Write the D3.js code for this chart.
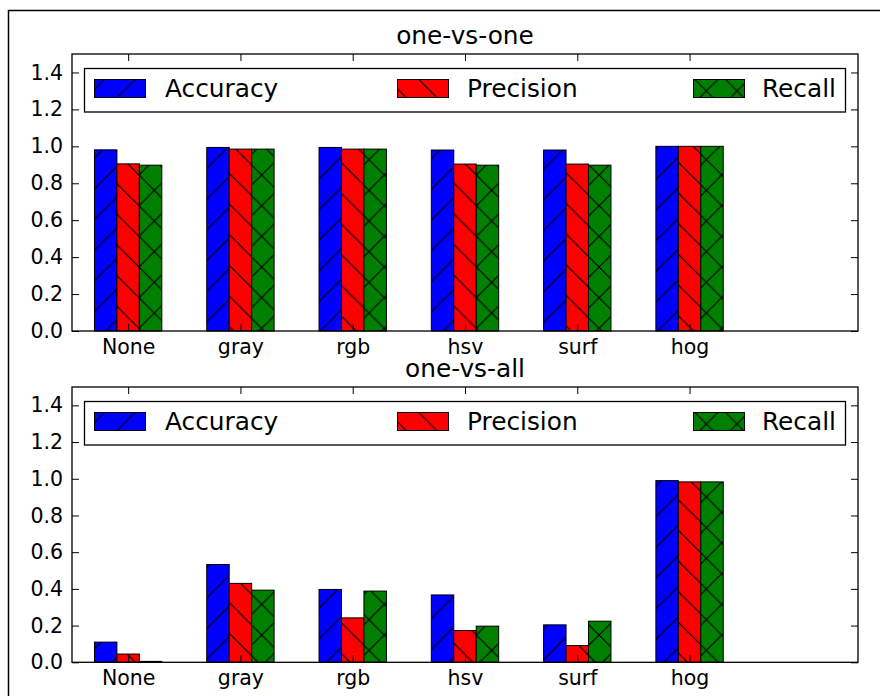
<!DOCTYPE html>
<html>
<head>
<meta charset="utf-8">
<script src="https://cdn.jsdelivr.net/npm/d3@7"></script>
<style>
  html, body { margin: 0; padding: 0; background: #fff; }
  svg { display: block; }
  text { font-family: "DejaVu Sans", sans-serif; fill: #000; }
</style>
</head>
<body>
<script>
// ---------- data ----------
const categories = ["None", "gray", "rgb", "hsv", "surf", "hog"];
const seriesNames = ["Accuracy", "Precision", "Recall"];
const seriesColors = ["#0000ff", "#ff0000", "#008000"];
const seriesHatch = ["/", "\\", "x"];

const ovoAccuracy  = [0.981, 0.994, 0.994, 0.980, 0.980, 1.000];
const ovoPrecision = [0.905, 0.985, 0.985, 0.904, 0.904, 1.000];
const ovoRecall    = [0.898, 0.985, 0.985, 0.898, 0.898, 1.000];

const ovaAccuracy  = [0.110, 0.533, 0.397, 0.367, 0.204, 0.990];
const ovaPrecision = [0.045, 0.430, 0.242, 0.173, 0.091, 0.983];
const ovaRecall    = [0.005, 0.393, 0.388, 0.197, 0.224, 0.983];

const yTicks = [0.0, 0.2, 0.4, 0.6, 0.8, 1.0, 1.2, 1.4];

const panels = [
  { title: "one-vs-one", values: [ovoAccuracy, ovoPrecision, ovoRecall], top: 54, bottom: 331 },
  { title: "one-vs-all", values: [ovaAccuracy, ovaPrecision, ovaRecall], top: 387, bottom: 662.3 }
];

// ---------- drawing ----------
const W = 880, H = 696;
const left = 72, right = 858;
const svg = d3.select("body").append("svg").attr("width", W).attr("height", H);

// hatch patterns
const s = 30.67, ox = 721.7, oy = 175;
const defs = svg.append("defs");
seriesHatch.forEach((h, i) => {
  const p = defs.append("pattern")
    .attr("id", "hatch" + i)
    .attr("patternUnits", "userSpaceOnUse")
    .attr("x", ox).attr("y", oy)
    .attr("width", s).attr("height", s);
  p.append("rect").attr("width", s).attr("height", s).attr("fill", seriesColors[i]);
  let d = "";
  if (h === "/" || h === "x") {
    d += `M-2,2L2,-2M0,${s}L${s},0M${s-2},${s+2}L${s+2},${s-2}`;
  }
  if (h === "\\" || h === "x") {
    d += `M-2,${s-2}L2,${s+2}M0,0L${s},${s}M${s-2},-2L${s+2},2`;
  }
  p.append("path").attr("d", d).attr("stroke", "#000").attr("stroke-width", 1.2).attr("fill", "none");
});

// outer frame
svg.append("rect")
  .attr("x", 8.5).attr("y", 10.5)
  .attr("width", 1000).attr("height", 1000)
  .attr("fill", "none").attr("stroke", "#000").attr("stroke-width", 1.5);

const x = d3.scaleLinear().domain([-0.5, 6.5]).range([left, right]);
const barW = 0.2;

panels.forEach(panel => {
  const y = d3.scaleLinear().domain([0, 1.5]).range([panel.bottom, panel.top]);
  const g = svg.append("g");

  // bars
  panel.values.forEach((vals, si) => {
    g.append("g").selectAll("rect")
      .data(vals)
      .join("rect")
      .attr("x", (d, i) => x(i - 0.3 + si * barW))
      .attr("y", d => y(d))
      .attr("width", (d, i) => x(i - 0.3 + (si + 1) * barW) - x(i - 0.3 + si * barW))
      .attr("height", d => y(0) - y(d))
      .attr("fill", `url(#hatch${si})`)
      .attr("stroke", "#000")
      .attr("stroke-width", 1);
  });

  // axes
  const fs = "20.5px";
  const ax = [
    d3.axisLeft(y).tickValues(yTicks).tickFormat(d3.format(".1f")).tickSize(-7).tickSizeOuter(0).tickPadding(9),
    d3.axisRight(y).tickValues(yTicks).tickFormat("").tickSize(-7).tickSizeOuter(0),
    d3.axisBottom(x).tickValues(d3.range(categories.length)).tickFormat(i => categories[i]).tickSize(-7).tickSizeOuter(0).tickPadding(8),
    d3.axisTop(x).tickValues(d3.range(categories.length)).tickFormat("").tickSize(-7).tickSizeOuter(0)
  ];
  const tr = [
    `translate(${left},0)`, `translate(${right},0)`,
    `translate(0,${panel.bottom})`, `translate(0,${panel.top})`
  ];
  ax.forEach((a, k) => {
    const ag = g.append("g").attr("transform", tr[k]).call(a);
    ag.select(".domain").remove();
    ag.selectAll(".tick line").attr("stroke", "#000").attr("stroke-width", 1);
    ag.selectAll(".tick text").attr("font-family", "DejaVu Sans").attr("font-size", fs).attr("fill", "#000");
  });

  // frame
  g.append("rect")
    .attr("x", left).attr("y", panel.top)
    .attr("width", right - left).attr("height", panel.bottom - panel.top)
    .attr("fill", "none").attr("stroke", "#000").attr("stroke-width", 1.3);

  // title
  g.append("text")
    .attr("x", (left + right) / 2).attr("y", panel.top - 10)
    .attr("text-anchor", "middle")
    .attr("font-size", "24.8px")
    .text(panel.title);

  // legend
  const lg = g.append("g").attr("transform", `translate(0,${panel.top})`);
  lg.append("rect")
    .attr("x", 84.5).attr("y", 14.5).attr("width", 761).attr("height", 43.5)
    .attr("fill", "#fff").attr("stroke", "#000").attr("stroke-width", 1.3);
  const patchX = [94.5, 397.5, 693.5];
  const textX = [165, 467, 762];
  seriesNames.forEach((name, si) => {
    lg.append("rect")
      .attr("x", patchX[si]).attr("y", 25.5).attr("width", 51).attr("height", 18)
      .attr("fill", `url(#hatch${si})`).attr("stroke", "#000").attr("stroke-width", 1);
    lg.append("text")
      .attr("x", textX[si]).attr("y", 43)
      .attr("font-size", "24.8px")
      .text(name);
  });
});
</script>
</body>
</html>
